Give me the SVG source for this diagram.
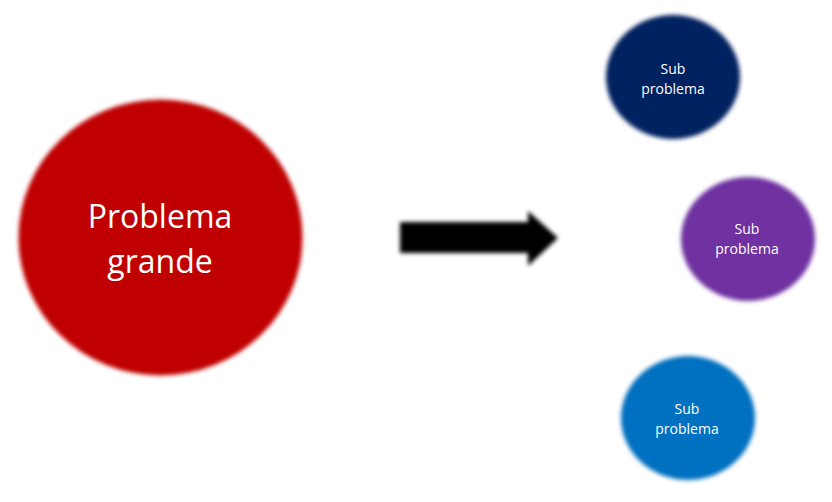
<svg xmlns="http://www.w3.org/2000/svg" width="832" height="502" viewBox="0 0 832 502">
  <defs>
    <filter id="soft" x="-10%" y="-10%" width="120%" height="120%">
      <feGaussianBlur stdDeviation="2"/>
    </filter>
  </defs>
  <style>
    .shape { filter: url(#soft); }
    .big { font-family: "Open Sans", "Liberation Sans", sans-serif; font-size: 32px; fill: #ffffff; text-anchor: middle; }
    .small { font-family: "Open Sans", "Liberation Sans", sans-serif; font-size: 14px; fill: #ffffff; text-anchor: middle; }
  </style>
  <rect width="832" height="502" fill="#ffffff"/>
  <g id="problema-grande">
    <ellipse class="shape" cx="160.5" cy="237.5" rx="142" ry="138" fill="#C00000"/>
    <text class="big" x="160" y="228">Problema</text>
    <text class="big" x="160" y="273">grande</text>
  </g>
  <g id="connectors">
    <polygon class="shape" points="400,222 528,222 528,211 558,238 528,266 528,253 400,253" fill="#000000"/>
  </g>
  <g id="sub1">
    <ellipse class="shape" cx="673" cy="77" rx="67" ry="62" fill="#002060"/>
    <text class="small" x="673" y="74">Sub</text>
    <text class="small" x="673" y="94">problema</text>
  </g>
  <g id="sub2">
    <ellipse class="shape" cx="748" cy="239" rx="67" ry="62" fill="#7030A0"/>
    <text class="small" x="747" y="234">Sub</text>
    <text class="small" x="747" y="254">problema</text>
  </g>
  <g id="sub3">
    <ellipse class="shape" cx="688" cy="418" rx="67" ry="62" fill="#0070C0"/>
    <text class="small" x="687" y="414">Sub</text>
    <text class="small" x="687" y="434">problema</text>
  </g>
</svg>
